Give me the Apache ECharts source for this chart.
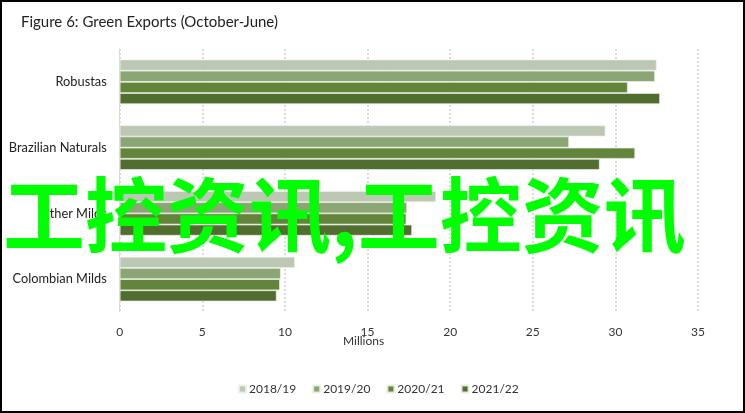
<!DOCTYPE html>
<html>
<head>
<meta charset="utf-8">
<script src="https://cdn.jsdelivr.net/npm/echarts@6/dist/echarts.min.js"></script>
<style>
html,body{margin:0;padding:0;background:#fff;}
#frame{position:absolute;left:0;top:0;width:741px;height:409px;border:2px solid #000;background:#fff;}
#chart{position:absolute;left:0;top:0;width:745px;height:413px;}
</style>
</head>
<body>
<div id="frame"></div>
<div id="chart"></div>
<script>
const categories = ['Robustas', 'Brazilian Naturals', 'Other Milds', 'Colombian Milds'];
const seriesNames = ['2018/19', '2019/20', '2020/21', '2021/22'];
const v2018 = [32.5, 29.4, 19.15, 10.6];
const v2019 = [32.4, 27.2, 17.4, 9.75];
const v2020 = [30.75, 31.2, 17.35, 9.7];
const v2021 = [32.7, 29.05, 17.7, 9.5];
const xTicks = [0, 5, 10, 15, 20, 25, 30, 35];
const colors = ['#bcc8b3', '#8ba574', '#62853b', '#516d2f'];
const title = 'Figure 6: Green Exports (October-June)';
const axisName = 'Millions';
const watermark = '工控资讯,工控资讯';

const values = [v2018, v2019, v2020, v2021];
const font = 'Lato, "Open Sans", sans-serif';

const chart = echarts.init(document.getElementById('chart'), null, {renderer: 'canvas'});
chart.setOption({
  backgroundColor: 'transparent',
  animation: false,
  title: {
    text: title, left: 16, top: 10,
    textStyle: {fontFamily: font, fontSize: 15, fontWeight: 'normal', color: '#222'}
  },
  legend: {
    bottom: 13, left: 233,
    itemWidth: 7, itemHeight: 7, itemGap: 16,
    icon: 'rect',
    textStyle: {fontFamily: font, fontSize: 12, color: '#333', padding: [0, 0, 0, -2]},
    data: seriesNames
  },
  grid: {left: 119.7, right: 47, top: 49, bottom: 101, containLabel: false},
  xAxis: {
    type: 'value', min: xTicks[0], max: xTicks[xTicks.length - 1], interval: 5,
    axisLine: {show: false}, axisTick: {show: false},
    axisLabel: {fontFamily: font, fontSize: 12, color: '#333', margin: 14},
    splitLine: {show: true, lineStyle: {color: '#cfcfcf', width: 1.5, type: [2, 2]}}
  },
  yAxis: {
    type: 'category', data: categories, inverse: true,
    axisLine: {show: true, lineStyle: {color: '#d9d9d9', width: 1}},
    axisTick: {show: false},
    axisLabel: {fontFamily: font, fontSize: 12.8, color: '#222', margin: 13}
  },
  series: seriesNames.map((n, i) => ({
    name: n, type: 'bar', data: values[i],
    barGap: '0%', barCategoryGap: '32%',
    itemStyle: {color: colors[i], borderColor: 'rgba(235,240,230,0.9)', borderWidth: 0.8}
  })),
  graphic: [
    {type: 'text', left: 343, top: 335, z: 10,
     style: {text: axisName, font: '12px ' + font, fill: '#333'}},
    {type: 'text', x: 3, y: 215, z: 100,
     style: {text: watermark, fontFamily: '"Noto Sans CJK SC"', fontSize: 82, fontWeight: 'bold',
             fill: '#00ff00', textVerticalAlign: 'middle'}}
  ]
});
</script>
</body>
</html>
